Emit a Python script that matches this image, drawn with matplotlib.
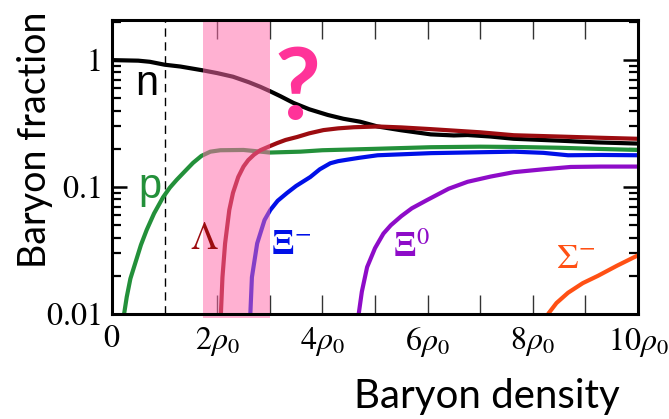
import numpy as np
import matplotlib
matplotlib.use("Agg")
import matplotlib.pyplot as plt
from matplotlib.patches import Rectangle
from matplotlib.ticker import FixedLocator, LogLocator, NullFormatter, FixedFormatter

plt.rcParams['mathtext.fontset'] = 'stix'
plt.rcParams['font.family'] = ['Liberation Serif', 'DejaVu Serif']

# ---- data (x in units of rho0, y = baryon fraction) ----
n_x = [0.0, 0.5, 0.72, 1.0, 1.3, 1.73, 2.0, 2.3, 2.6, 2.82, 3.0, 3.2, 3.45, 3.75, 4.1, 4.4, 4.72, 5.05, 5.5, 6.06, 6.5, 6.76, 7.2, 7.64, 8.5, 9.2, 10.0]
n_y = [1.0, 0.99, 0.97, 0.92, 0.89, 0.83, 0.79, 0.74, 0.67, 0.616, 0.57, 0.52, 0.46, 0.41, 0.37, 0.345, 0.327, 0.30, 0.28, 0.26, 0.255, 0.257, 0.25, 0.24, 0.232, 0.225, 0.22]

p_x = [0.23, 0.28, 0.35, 0.44, 0.55, 0.66, 0.8, 0.97, 1.1, 1.23, 1.4, 1.54, 1.7, 1.87, 2.06, 2.5, 3.0, 3.58, 4.0, 5.0, 6.06, 7.0, 7.64, 8.5, 9.2, 10.0]
p_y = [0.01, 0.0136, 0.019, 0.025, 0.035, 0.046, 0.062, 0.083, 0.099, 0.114, 0.135, 0.155, 0.176, 0.19, 0.195, 0.196, 0.187, 0.19, 0.195, 0.2, 0.206, 0.208, 0.207, 0.204, 0.2, 0.196]

lam_x = [2.07, 2.10, 2.15, 2.23, 2.3, 2.40, 2.5, 2.59, 2.7, 2.82, 3.0, 3.14, 3.3, 3.52, 3.75, 4.02, 4.3, 4.6, 5.05, 5.5, 6.06, 7.0, 7.64, 8.5, 9.2, 10.0]
lam_y = [0.01, 0.0195, 0.036, 0.066, 0.09, 0.12, 0.145, 0.163, 0.18, 0.195, 0.21, 0.222, 0.235, 0.248, 0.265, 0.281, 0.29, 0.296, 0.30, 0.295, 0.286, 0.27, 0.256, 0.25, 0.245, 0.24]

xim_x = [2.63, 2.66, 2.76, 2.9, 3.01, 3.15, 3.33, 3.5, 3.77, 3.95, 4.15, 4.3, 4.5, 4.7, 5.05, 6.06, 7.0, 7.64, 8.2, 8.67, 9.3, 10.0]
xim_y = [0.01, 0.0195, 0.036, 0.055, 0.066, 0.078, 0.09, 0.102, 0.12, 0.138, 0.154, 0.16, 0.165, 0.17, 0.178, 0.185, 0.188, 0.19, 0.186, 0.178, 0.179, 0.178]

xi0_x = [4.69, 4.75, 4.85, 5.0, 5.16, 5.3, 5.5, 5.7, 5.99, 6.4, 6.76, 7.2, 7.64, 8.2, 8.72, 9.3, 10.0]
xi0_y = [0.01, 0.015, 0.0234, 0.033, 0.043, 0.05, 0.059, 0.068, 0.079, 0.097, 0.11, 0.121, 0.131, 0.138, 0.144, 0.145, 0.145]

sig_x = [8.29, 8.45, 8.67, 8.95, 9.24, 9.6, 10.0]
sig_y = [0.01, 0.0122, 0.0147, 0.0175, 0.02, 0.024, 0.029]

tick_pos = [0, 2, 4, 6, 8, 10]
tick_labels = [r'$0$', r'$2\rho_0$', r'$4\rho_0$', r'$6\rho_0$', r'$8\rho_0$', r'$10\rho_0$']
minor_pos = [3, 5, 7, 9]
ytick_pos = [0.01, 0.1, 1]
ytick_labels = [r'$0.01$', r'$0.1$', r'$1$']

band = (1.73, 3.0)

# ---- figure ----
fig = plt.figure(figsize=(6.69, 4.19), dpi=100)
ax = fig.add_axes([112/669, 1 - 314/419, (638 - 112)/669, (314 - 20)/419])
ax.set_yscale('log')
ax.set_xlim(0, 10)
ax.set_ylim(0.01, 2.07)

lw = 3.0
kw = dict(lw=lw, solid_capstyle='butt', solid_joinstyle='round', zorder=3)
ax.plot(n_x, n_y, color='black', **kw)
ax.plot(p_x, p_y, color='#23903A', **kw)
ax.plot(lam_x, lam_y, color='#9C0C10', **kw)
ax.plot(xim_x, xim_y, color='#0010E8', **kw)
ax.plot(xi0_x, xi0_y, color='#8E0CC8', **kw)
ax.plot(sig_x, sig_y, color='#FF5014', **kw)

ax.axvline(1.0, color='black', lw=1.0, ls=(0, (6, 4)), zorder=2)

# pink band on top of curves
rect = Rectangle((band[0], -0.012), band[1] - band[0], 1.012,
                 transform=ax.get_xaxis_transform(), facecolor='#FF6AAA',
                 alpha=0.52, edgecolor='none', zorder=4, clip_on=False)
ax.add_patch(rect)

# ticks
ax.xaxis.set_major_locator(FixedLocator(tick_pos))
ax.xaxis.set_major_formatter(FixedFormatter(tick_labels))
ax.xaxis.set_minor_locator(FixedLocator(minor_pos))
ax.yaxis.set_major_locator(FixedLocator(ytick_pos))
ax.yaxis.set_major_formatter(FixedFormatter(ytick_labels))
ax.yaxis.set_minor_locator(LogLocator(base=10, subs=np.arange(2, 10)))
ax.yaxis.set_minor_formatter(NullFormatter())

ax.tick_params(axis='x', which='both', direction='in', top=True, bottom=True,
               length=14, width=1.0, color='#333333', pad=8, labelsize=23)
ax.tick_params(axis='y', which='major', direction='in', left=True, right=True,
               length=11, width=1.8, color='black', pad=8, labelsize=23)
ax.tick_params(axis='y', which='minor', direction='in', left=True, right=True,
               length=6.5, width=1.6, color='black')

for s in ax.spines.values():
    s.set_linewidth(2.2)
    s.set_zorder(5)

sans_narrow = ['Liberation Sans Narrow', 'Liberation Sans', 'DejaVu Sans']
ax.text(0.667, 0.647, 'n', fontsize=30, family=sans_narrow,
        color='black', ha='center', va='center', zorder=6)
ax.text(0.72, 0.101, 'p', fontsize=30, family=sans_narrow,
        color='#23903A', ha='center', va='center', zorder=6)
ax.text(1.75, 0.0383, r'$\Lambda$', fontsize=28, color='#9C0C10',
        ha='center', va='center', zorder=6)
ax.text(3.40, 0.0349, r'$\mathbf{\Xi}^{-}$', fontsize=25, color='#0010E8',
        ha='center', va='center', zorder=6)
ax.text(5.69, 0.0328, r'$\mathbf{\Xi}^{0}$', fontsize=25, color='#8E0CC8',
        ha='center', va='center', zorder=6)
ax.text(8.81, 0.0271, r'$\Sigma^{-}$', fontsize=25, color='#FF5014',
        ha='center', va='center', zorder=6)

ax.text(3.53, 0.575, '?', fontsize=72, family=['Lato', 'DejaVu Sans'], fontweight='bold',
        color='#FF3399', ha='center', va='center', zorder=7)

fig.text(35/669, 1 - 140/419, 'Baryon fraction', rotation=90, fontsize=27,
         family=['Lato', 'DejaVu Sans'], ha='center', va='center')
fig.text(487/669, 1 - 396/419, 'Baryon density', fontsize=29,
         family=['Lato', 'DejaVu Sans'], ha='center', va='center')

fig.savefig('out.png', dpi=100)
